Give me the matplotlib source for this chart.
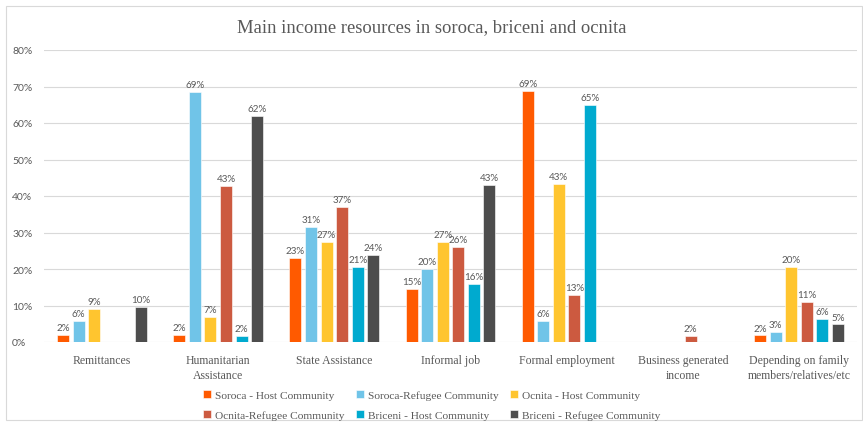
import numpy as np
import matplotlib.pyplot as plt
from matplotlib.patches import Rectangle

categorias = ["Remittances", "Humanitarian\nAssistance", "State Assistance", "Informal job",
              "Formal employment", "Business generated\nincome",
              "Depending on family\nmembers/relatives/etc"]

grupos = ["Soroca - Host Community", "Soroca-Refugee Community", "Ocnita - Host Community",
          "Ocnita-Refugee Community", "Briceni - Host Community", "Briceni - Refugee Community"]

cores = ["#FF5A00", "#70C4E8", "#FFC52F", "#CC5A40", "#00AACF", "#4D4D4D"]

# valores por grupo (fracao), na ordem das categorias
soroca_host = [0.02, 0.02, 0.23, 0.146, 0.687, 0.0, 0.018]
soroca_ref = [0.057, 0.686, 0.314, 0.20, 0.057, 0.0, 0.028]
ocnita_host = [0.091, 0.068, 0.273, 0.273, 0.432, 0.0, 0.205]
ocnita_ref = [0.0, 0.428, 0.37, 0.26, 0.129, 0.016, 0.11]
briceni_host = [0.0, 0.016, 0.206, 0.159, 0.65, 0.0, 0.063]
briceni_ref = [0.095, 0.62, 0.238, 0.429, 0.0, 0.0, 0.048]

series = [soroca_host, soroca_ref, ocnita_host, ocnita_ref, briceni_host, briceni_ref]

serif = "Liberation Serif"
sans = "Lato"
cinza = "#595959"

fig = plt.figure(figsize=[8.63, 4.27], dpi=100)
fig.patches.append(Rectangle((6/863, 1-421/427), 856/863, 414/427, transform=fig.transFigure,
                             fill=False, edgecolor="#D9D9D9", linewidth=0.8))

ax = fig.add_axes([44/863, 1-343/427, 813/863, 292/427])

x = np.arange(len(categorias))
passo = 0.134
larg = 0.104
barras_leg = []
for i, (vals, cor, nome) in enumerate(zip(series, cores, grupos)):
    pos = x + (i - 2.5) * passo
    barras = ax.bar(pos, vals, width=larg, color=cor, edgecolor="white", linewidth=0.4,
                    label=nome, zorder=3)
    barras_leg.append(barras)
    for b, v in zip(barras, vals):
        if v > 0:
            ax.text(b.get_x() + b.get_width()/2, v + 0.008, f"{round(v*100):.0f}%",
                    ha="center", va="bottom", fontsize=7.1, color=cinza, family=sans, zorder=4)

ax.set_xlim(-0.5, len(categorias) - 0.5)
ax.set_ylim(0, 0.8)
ticks = np.arange(0, 0.81, 0.1)
ax.set_yticks(ticks)
ax.set_yticklabels([f"{int(round(t*100))}%" for t in ticks],
                   fontsize=7.5, color=cinza, family=sans)
ax.set_xticks(x)
ax.set_xticklabels(categorias, fontsize=8.5, color=cinza, family=serif, linespacing=1.3)
ax.tick_params(axis="x", length=0, pad=9)
ax.tick_params(axis="y", length=0, pad=23)
for t in ax.get_yticklabels():
    t.set_horizontalalignment("left")
ax.grid(axis="y", color="#D9D9D9", linewidth=0.8, zorder=0)
for s in ax.spines.values():
    s.set_visible(False)

fig.text(0.5, 1-28/427, "Main income resources in soroca, briceni and ocnita",
         ha="center", va="center", fontsize=13.4, color=cinza, family=serif)

# legenda preenchida por linha: reordena para o preenchimento por coluna do matplotlib
ordem = [0, 3, 1, 4, 2, 5]
fig.legend([barras_leg[k] for k in ordem], [grupos[k] for k in ordem],
           loc="center", bbox_to_anchor=(0.5, 1-406/427), ncol=3, frameon=False,
           prop={"family": serif, "size": 8.2}, labelcolor=cinza, handlelength=0.75,
           handleheight=0.75, handletextpad=0.3, columnspacing=1.0, labelspacing=0.85)

plt.savefig("out.png", dpi=100)
